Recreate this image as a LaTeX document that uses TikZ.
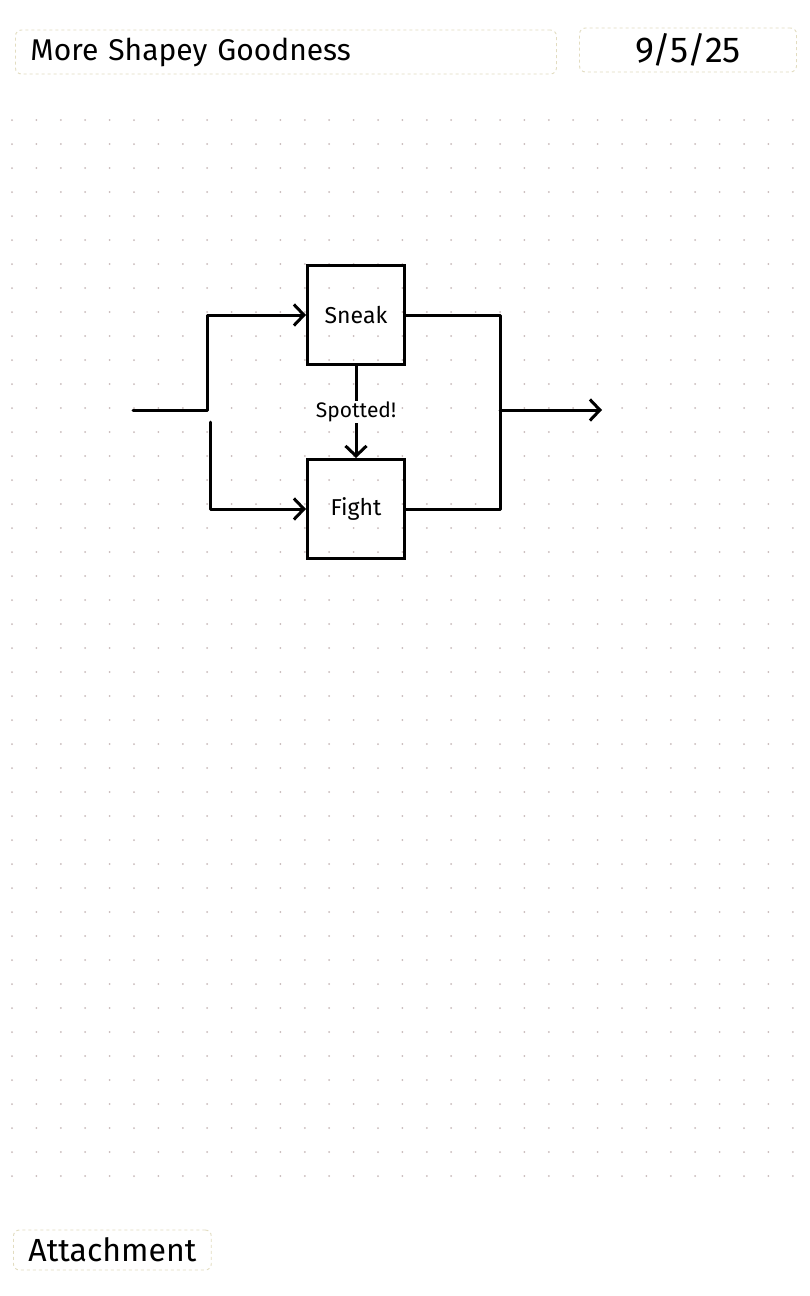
\documentclass[tikz,border=0pt]{standalone}
\usepackage{fontspec}
\setmainfont{Fira Sans}
\usepackage{xcolor}
\usetikzlibrary{positioning,arrows.meta}

\definecolor{faint}{RGB}{226,220,192}
\definecolor{dotcol}{RGB}{200,186,186}

\begin{document}
\begin{tikzpicture}[x=1pt, y=-1pt, line width=3pt]
  \tikzset{
    block/.style={draw, rectangle, minimum height=99pt, minimum width=97pt, text centered, font=\fontsize{23}{26}\selectfont},
    wire/.style={line join=round, line cap=round},
    arr/.style={-{Straight Barb[length=10pt, width=21pt]}},
    headbox/.style={draw=faint, line width=0.9pt, dashed, rounded corners=6pt, minimum height=44pt},
    griddot/.style={fill=dotcol}
  }

  \fill[white] (0,0) rectangle (809,1296);
  \useasboundingbox (0,0) rectangle (809,1296);

  \foreach \i in {0,...,32} {
    \foreach \j in {0,...,44} {
      \fill[griddot] (12+24.4*\i,120+24*\j) circle (1pt);
    }
  }

  \node[headbox, anchor=west, text width=511pt, inner xsep=15pt, font=\fontsize{30}{34}\selectfont] (title) at (15,52) {More Shapey Goodness};
  \node[headbox, minimum width=217pt, font=\fontsize{36}{40}\selectfont] (date) at (688,50) {9/5/25};
  \node[headbox, anchor=west, minimum height=40pt, inner xsep=15pt, font=\fontsize{32}{36}\selectfont] (attach) at (13,1250) {Attachment};

  \node[block] (sneak) at (356,315) {Sneak};
  \node[block, below=92pt of sneak] (fight) {Fight};

  \coordinate (in) at (133,410);
  \coordinate (split) at (207,410);
  \coordinate (fork) at (210,422);
  \coordinate (merge) at (500,410);
  \coordinate (out) at (602,410);

  \draw[wire, arr] (in) -- (split) |- (sneak.west);
  \draw[wire, arr] (fork) |- (fight.west);
  \draw[wire] (sneak.east) -| (merge);
  \draw[wire] (fight.east) -| (merge);
  \draw[wire, arr] (merge) -- (out);
  \draw[wire, arr] (sneak) -- node[fill=white, inner sep=1pt, font=\fontsize{21}{24}\selectfont] {Spotted!} (fight);
\end{tikzpicture}
\end{document}
